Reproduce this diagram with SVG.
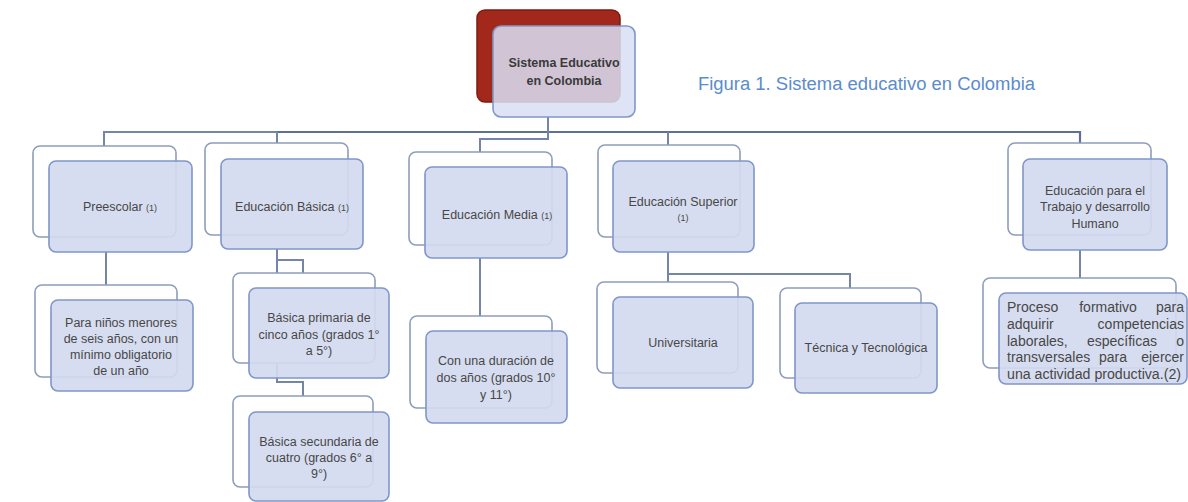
<svg xmlns="http://www.w3.org/2000/svg" width="1188" height="502" viewBox="0 0 1188 502">
<style>
.bk{fill:#ffffff;stroke:#8d9dba;stroke-width:1.6}
.fr{fill:#d4daef;fill-opacity:0.92;stroke:#7f96c6;stroke-width:1.6}
.cn{fill:none;stroke:#7486a8;stroke-width:2}
.cd{fill:none;stroke:#5d7196;stroke-width:2.2}
.t{font-family:"Liberation Sans",Arial,sans-serif;font-size:12.5px;fill:#474747;text-anchor:middle}
.s{font-size:9px}
.tb{font-family:"Liberation Sans",Arial,sans-serif;font-size:12.5px;font-weight:bold;fill:#3a3a3a;text-anchor:middle}
.j{font-family:"Liberation Sans",Arial,sans-serif;font-size:14px;fill:#474747}
.m{text-anchor:middle}
.e{text-anchor:end}
.cap{font-family:"Liberation Sans",Arial,sans-serif;font-size:18px;fill:#5b8ccc}
</style>
<g id="connectors">
<path class="cn" d="M104,146 V132 H277"/>
<path class="cd" d="M277,132 H1080 V143"/>
<path class="cn" d="M548,117 V139 H480 V167"/>
<path class="cn" d="M277,143 V132"/>
<path class="cn" d="M668,145 V132"/>
<path class="cn" d="M106,252 V285"/>
<path class="cn" d="M277,249 V260 H303 V273"/>
<path class="cn" d="M277,249 V382 H303 V396"/>
<path class="cn" d="M480,258 V316"/>
<path class="cn" d="M668,252 V282"/>
<path class="cn" d="M668,252 V274 H850 V288"/>
<path class="cn" d="M1080,250 V278"/>
</g>
<g id="root">
<rect x="477" y="10" width="143" height="92" rx="8" fill="#a3281c" stroke="#7d1b12" stroke-width="1.5"/>
<rect x="493" y="26" width="142" height="91" rx="8" fill="#d9dff3" fill-opacity="0.86" stroke="#7f96c6" stroke-width="1.6"/>
<text class="tb" x="564" y="67">Sistema Educativo</text>
<text class="tb" x="564" y="85">en Colombia</text>
</g>
<g id="caption">
<text class="cap" x="698" y="90" textLength="337" lengthAdjust="spacingAndGlyphs">Figura 1. Sistema educativo en Colombia</text>
</g>
<g id="preescolar">
<rect class="bk" x="33" y="146" width="143" height="91" rx="7"/>
<rect class="fr" x="49" y="161" width="143" height="91" rx="7"/>
<text class="t" x="120" y="211">Preescolar <tspan class="s">(1)</tspan></text>
</g>
<g id="basica">
<rect class="bk" x="205" y="143" width="143" height="92" rx="7"/>
<rect class="fr" x="221" y="159" width="142" height="90" rx="7"/>
<text class="t" x="292" y="211">Educación Básica <tspan class="s">(1)</tspan></text>
</g>
<g id="media">
<rect class="bk" x="409" y="152" width="143" height="93" rx="7"/>
<rect class="fr" x="425" y="167" width="142" height="91" rx="7"/>
<text class="t" x="497" y="219">Educación Media <tspan class="s">(1)</tspan></text>
</g>
<g id="superior">
<rect class="bk" x="598" y="145" width="142" height="92" rx="7"/>
<rect class="fr" x="613" y="161" width="141" height="91" rx="7"/>
<text class="t" x="683" y="206">Educación Superior</text>
<text class="t s" x="683" y="221">(1)</text>
</g>
<g id="trabajo">
<rect class="bk" x="1008" y="143" width="143" height="92" rx="7"/>
<rect class="fr" x="1023" y="159" width="144" height="91" rx="7"/>
<text class="t" x="1095" y="195">Educación para el</text>
<text class="t" x="1095" y="211">Trabajo y desarrollo</text>
<text class="t" x="1095" y="228">Humano</text>
</g>
<g id="preescolar-detalle">
<rect class="bk" x="35" y="285" width="142" height="92" rx="7"/>
<rect class="fr" x="51" y="300" width="142" height="91" rx="7"/>
<text class="t" x="121" y="327">Para niños menores</text>
<text class="t" x="121" y="343">de seis años, con un</text>
<text class="t" x="121" y="359">mínimo obligatorio</text>
<text class="t" x="121" y="375">de un año</text>
</g>
<g id="basica-primaria">
<rect class="bk" x="233" y="273" width="142" height="90" rx="7"/>
<rect class="fr" x="249" y="288" width="140" height="90" rx="7"/>
<text class="t" x="319" y="322">Básica primaria de</text>
<text class="t" x="319" y="339">cinco años (grados 1°</text>
<text class="t" x="319" y="355">a 5°)</text>
</g>
<g id="basica-secundaria">
<rect class="bk" x="233" y="396" width="140" height="91" rx="7"/>
<rect class="fr" x="249" y="412" width="140" height="89" rx="7"/>
<text class="t" x="319" y="446">Básica secundaria de</text>
<text class="t" x="319" y="462">cuatro (grados 6° a</text>
<text class="t" x="319" y="478">9°)</text>
</g>
<g id="media-detalle">
<rect class="bk" x="410" y="316" width="142" height="92" rx="7"/>
<rect class="fr" x="426" y="331" width="141" height="92" rx="7"/>
<text class="t" x="496" y="365">Con una duración de</text>
<text class="t" x="496" y="382">dos años (grados 10°</text>
<text class="t" x="496" y="399">y 11°)</text>
</g>
<g id="universitaria">
<rect class="bk" x="597" y="282" width="141" height="91" rx="7"/>
<rect class="fr" x="613" y="297" width="140" height="91" rx="7"/>
<text class="t" x="683" y="347">Universitaria</text>
</g>
<g id="tecnica">
<rect class="bk" x="780" y="288" width="141" height="90" rx="7"/>
<rect class="fr" x="795" y="303" width="142" height="90" rx="7"/>
<text class="t" x="866" y="352">Técnica y Tecnológica</text>
</g>
<g id="trabajo-detalle">
<rect class="bk" x="983" y="278" width="193" height="90" rx="7"/>
<rect class="fr" x="999" y="293" width="188" height="91" rx="7"/>
<text class="j" x="1007" y="312">Proceso</text>
<text class="j m" x="1108" y="312">formativo</text>
<text class="j e" x="1184" y="312">para</text>
<text class="j" x="1007" y="329">adquirir</text>
<text class="j e" x="1184" y="329">competencias</text>
<text class="j" x="1007" y="346">laborales,</text>
<text class="j m" x="1122" y="346">específicas</text>
<text class="j e" x="1184" y="346">o</text>
<text class="j" x="1007" y="362">transversales</text>
<text class="j m" x="1113" y="362">para</text>
<text class="j e" x="1184" y="362">ejercer</text>
<text class="j" x="1007" y="379" textLength="174" lengthAdjust="spacingAndGlyphs">una actividad productiva.(2)</text>
</g>
</svg>
